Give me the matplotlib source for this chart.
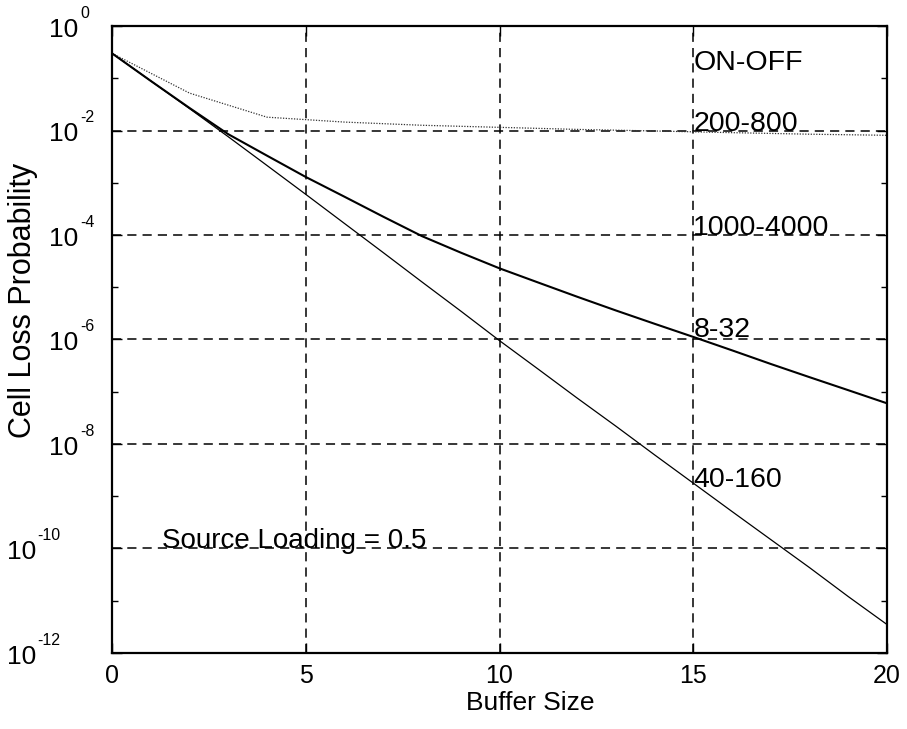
import matplotlib
matplotlib.use("Agg")
import matplotlib.pyplot as plt
from matplotlib.ticker import FixedLocator, NullFormatter

plt.rcParams['font.family'] = ['Liberation Sans', 'DejaVu Sans']

# ---- data ----
buffer_size = list(range(0, 21))
clp_40_160 = [3.0e-1, 8.9e-2, 2.63e-2, 7.6e-3, 2.14e-3, 6.0e-4, 1.66e-4, 4.6e-5,
              1.26e-5, 3.5e-6, 9.5e-7, 2.7e-7, 7.6e-8, 2.2e-8, 6.2e-9, 1.78e-9,
              5.1e-10, 1.48e-10, 4.3e-11, 1.2e-11, 3.5e-12]
clp_1000_4000 = [3.0e-1, 8.9e-2, 2.7e-2, 8.5e-3, 3.3e-3, 1.29e-3, 5.4e-4, 2.24e-4,
                 9.5e-5, 4.6e-5, 2.3e-5, 1.23e-5, 6.6e-6, 3.6e-6, 2.0e-6, 1.12e-6,
                 6.2e-7, 3.4e-7, 1.9e-7, 1.07e-7, 6.0e-8]
buffer_size_even = list(range(0, 21, 2))
clp_200_800 = [3.0e-1, 5.2e-2, 1.8e-2, 1.45e-2, 1.26e-2, 1.15e-2, 1.05e-2,
               9.8e-3, 9.1e-3, 8.5e-3, 8.1e-3]

curve_labels = ["ON-OFF", "200-800", "1000-4000", "8-32", "40-160"]
curve_label_y = [1.45e-1, 1.0e-2, 1.0e-4, 1.1e-6, 1.5e-9]
annotation = "Source Loading = 0.5"

x_ticks = [0, 5, 10, 15, 20]
y_major_exp = [0, -2, -4, -6, -8, -10, -12]
y_minor_exp = [-1, -3, -5, -7, -9, -11]

# ---- figure ----
fig = plt.figure(figsize=(9.07, 7.29), dpi=100)
ax = fig.add_axes([0.1235, 0.1043, 0.8545, 0.8600])

ax.plot(buffer_size_even, clp_200_800, color='#333333', lw=0.9,
        linestyle=(0, (1, 1.2)))
ax.plot(buffer_size, clp_1000_4000, color='black', lw=1.5)
ax.plot(buffer_size, clp_40_160, color='black', lw=0.9)

ax.set_yscale('log')
ax.set_xlim(0, 20)
ax.set_ylim(1e-12, 1e0)

ax.xaxis.set_major_locator(FixedLocator(x_ticks))
ax.yaxis.set_major_locator(FixedLocator([10.0 ** e for e in y_major_exp]))
ax.yaxis.set_minor_locator(FixedLocator([10.0 ** e for e in y_minor_exp]))
ax.yaxis.set_minor_formatter(NullFormatter())
ax.yaxis.set_major_formatter(NullFormatter())

ax.tick_params(which='both', direction='in', top=True, right=True,
               width=1.0, colors='black')
ax.tick_params(which='major', length=7)
ax.tick_params(axis='x', which='major', pad=8, labelsize=18)
ax.tick_params(which='minor', length=4)

# y tick labels: "10" with a small raised exponent (hyphen minus as in reference)
for e in y_major_exp:
    exp_txt = str(e)
    if len(exp_txt.lstrip('-')) > 1:
        base_dx, exp_dx = -54.7, -54.0
    else:
        base_dx, exp_dx = -24.5, -23.0
    ax.annotate("10", xy=(0, 10.0 ** e), xycoords=('axes fraction', 'data'),
                xytext=(base_dx, -7.9), textcoords='offset points',
                ha='right', va='baseline', fontsize=19, annotation_clip=False)
    ax.annotate(exp_txt, xy=(0, 10.0 ** e), xycoords=('axes fraction', 'data'),
                xytext=(exp_dx, 5.8), textcoords='offset points',
                ha='left', va='baseline', fontsize=11.5, annotation_clip=False)

ax.grid(True, which='major', color='black', linestyle=(0, (6, 4)), lw=1.1)
for s in ax.spines.values():
    s.set_linewidth(1.6)

ax.set_xlabel("Buffer Size", fontsize=19, va='top')
ax.xaxis.set_label_coords(0.539, -0.06)
ax.set_ylabel("Cell Loss Probability", fontsize=22, va='center')
ax.yaxis.set_label_coords(-0.115, 0.563)

for lab, yv in zip(curve_labels, curve_label_y):
    ax.text(15.0, yv, lab, fontsize=20.5, ha='left', va='baseline')

ax.text(1.3, 1.0e-10, annotation, fontsize=20, ha='left', va='baseline')

fig.savefig("out.png", dpi=100, facecolor='white')
